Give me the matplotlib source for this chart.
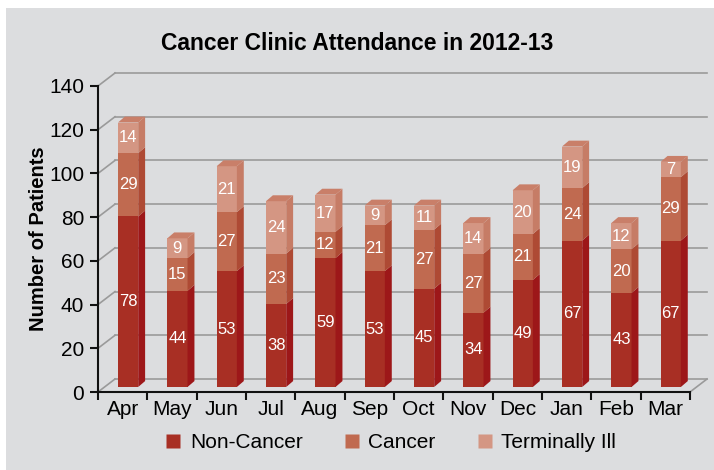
import numpy as np
import matplotlib.pyplot as plt
from matplotlib.patches import Polygon, Rectangle
from matplotlib.lines import Line2D

months = ['Apr', 'May', 'Jun', 'Jul', 'Aug', 'Sep', 'Oct', 'Nov', 'Dec', 'Jan', 'Feb', 'Mar']
non_cancer = [78, 44, 53, 38, 59, 53, 45, 34, 49, 67, 43, 67]
cancer = [29, 15, 27, 23, 12, 21, 27, 27, 21, 24, 20, 29]
terminally_ill = [14, 9, 21, 24, 17, 9, 11, 14, 20, 19, 12, 7]
series_names = ['Non-Cancer', 'Cancer', 'Terminally Ill']

front_cols = ['#a82f24', '#c06a50', '#d49683']
side_cols = ['#9d1719', '#ae4a34', '#c67c66']
top_col = '#c97f69'

plt.rcParams['font.family'] = ['Liberation Sans', 'DejaVu Sans']

fig = plt.figure(figsize=(7.14, 4.70), dpi=100)
fig.patch.set_facecolor('white')
fig.patches.append(Rectangle((6 / 714, 0), 1, 1 - 8 / 470, transform=fig.transFigure,
                             facecolor='#dcdddf', edgecolor='none', zorder=-10))
ax = fig.add_axes([98 / 714, 78 / 470, 592 / 714, 306 / 470])
ax.set_facecolor('none')

n = len(months)
ax.set_xlim(0, n)
ax.set_ylim(0, 140)

# pseudo 3d offsets (data units)
wall_dx, wall_dy = 0.345, 5.95
bar_off_x, bar_off_y = 0.11, 2.3
depth_x, depth_y = 0.14, 2.7
width = 0.41

# back wall grid + floor
for v in range(0, 141, 20):
    ax.plot([0, wall_dx], [v, v + wall_dy], color='#9a9a9a', lw=1.2, clip_on=False, zorder=1)
    ax.plot([wall_dx, n + wall_dx], [v + wall_dy, v + wall_dy], color='#9a9a9a', lw=1.2,
            clip_on=False, zorder=1)
ax.plot([n, n + wall_dx], [0, wall_dy], color='#9a9a9a', lw=1.2, clip_on=False, zorder=1)

x = np.arange(n) + 0.5 + bar_off_x
data = [non_cancer, cancer, terminally_ill]
bottom = np.zeros(n)
for k, vals in enumerate(data):
    vals = np.array(vals, dtype=float)
    ax.bar(x, vals, width, bottom=bottom + bar_off_y, color=front_cols[k], zorder=3,
           clip_on=False, label=series_names[k])
    for i in range(n):
        xr = x[i] + width / 2
        b = bottom[i] + bar_off_y
        t = b + vals[i]
        ax.add_patch(Polygon([(xr, b), (xr, t), (xr + depth_x, t + depth_y), (xr + depth_x, b + depth_y)],
                             closed=True, facecolor=side_cols[k], edgecolor='none', zorder=3,
                             clip_on=False))
        ax.text(x[i], b + vals[i] / 2, str(int(vals[i])), ha='center', va='center',
                color='white', fontsize=12, zorder=5,
                family=['Liberation Sans Narrow', 'Liberation Sans', 'DejaVu Sans'])
    bottom += vals

# top faces
for i in range(n):
    xl = x[i] - width / 2
    xr = x[i] + width / 2
    t = bottom[i] + bar_off_y
    ax.add_patch(Polygon([(xl, t), (xr, t), (xr + depth_x, t + depth_y), (xl + depth_x, t + depth_y)],
                         closed=True, facecolor=top_col, edgecolor='none', zorder=3, clip_on=False))

for s in ['top', 'right']:
    ax.spines[s].set_visible(False)
for s in ['left', 'bottom']:
    ax.spines[s].set_linewidth(1.5)
    ax.spines[s].set_color('#111111')

ax.set_yticks(range(0, 141, 20))
ax.set_xticks(np.arange(n + 1))
ax.set_xticks(np.arange(n) + 0.5, minor=True)
ax.set_xticklabels([])
ax.set_xticklabels(months, minor=True)
ax.tick_params(axis='x', which='minor', length=0, labelsize=15, pad=6)
ax.tick_params(axis='x', which='major', length=6, width=1.5, color='#111111')
ax.tick_params(axis='y', length=6, width=1.5, color='#111111', labelsize=15, pad=4)

ax.set_ylabel('Number of Patients', fontsize=14.5, fontweight='bold', labelpad=1)
fig.text(0.5, 1 - 44 / 470, 'Cancer Clinic Attendance in 2012-13', ha='center', va='center',
         fontsize=16.5, fontweight='bold')

handles = [Line2D([], [], marker='s', ls='none', markersize=10, markerfacecolor=c,
                  markeredgecolor='none') for c in front_cols]
fig.legend(handles, series_names, loc='center', bbox_to_anchor=(0.5455, 1 - 443 / 470), ncol=3,
           frameon=False, fontsize=15, handletextpad=0.3, columnspacing=1.85, handlelength=1.0)

fig.savefig('out.png', dpi=100, facecolor=fig.get_facecolor())
